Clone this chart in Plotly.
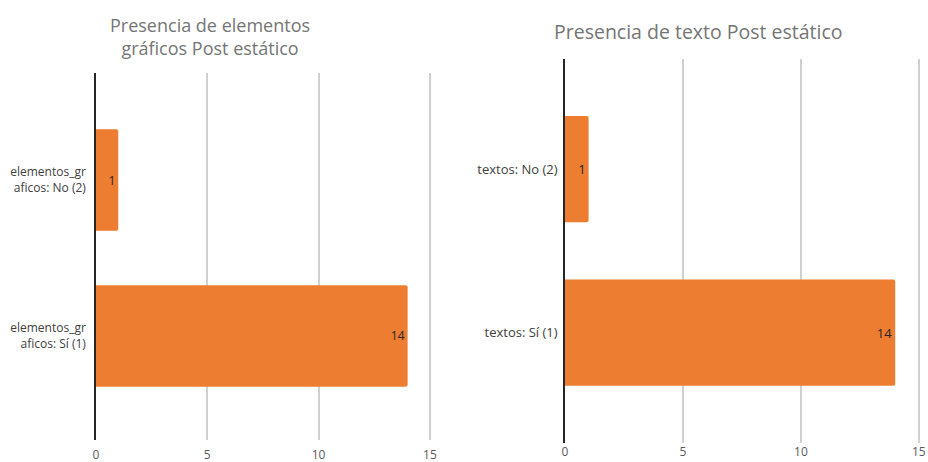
import plotly.graph_objects as go

# Data
cats_graficos = ["elementos_gr<br>aficos: No (2)", "elementos_gr<br>aficos: Sí (1)"]
vals_graficos = [1, 14]
cats_textos = ["textos: No (2)", "textos: Sí (1)"]
vals_textos = [1, 14]
x_ticks = [0, 5, 10, 15]
title_graficos = "Presencia de elementos<br>gráficos Post estático"
title_textos = "Presencia de texto Post estático"

BAR = "#ED7D31"
FONT = "Open Sans"


def bar_trace(vals, cats, xa, ya, size):
    return go.Bar(
        x=vals, y=cats, orientation="h", xaxis=xa, yaxis=ya,
        marker=dict(color=BAR, line=dict(width=0)), width=0.65,
        text=[str(v) for v in vals], textposition="inside",
        insidetextanchor="end", textfont=dict(color="#262626", size=size, family=FONT),
        hoverinfo="x+y", showlegend=False,
    )


fig = go.Figure()
fig.add_trace(bar_trace(vals_graficos, cats_graficos, "x", "y", 12))
fig.add_trace(bar_trace(vals_textos, cats_textos, "x2", "y2", 13))


def xaxis_style(size, standoff):
    return dict(
        tickvals=x_ticks, ticks="", showgrid=True, gridcolor="#d0d0d0", gridwidth=1.5,
        zeroline=False, showline=False, automargin=False,
        ticklabelstandoff=standoff,
        tickfont=dict(family=FONT, size=size, color="#595959"), fixedrange=True,
    )


def yaxis_style(size, standoff):
    return dict(
        type="category", showgrid=False, zeroline=False, ticks="",
        showline=True, linecolor="#262626", linewidth=1.5, automargin=False,
        tickfont=dict(family=FONT, size=size, color="#404040"),
        ticklabelstandoff=standoff, fixedrange=True,
    )


fig.update_layout(
    width=928, height=462,
    margin=dict(l=0, r=0, t=0, b=0),
    paper_bgcolor="white", plot_bgcolor="white",
    barcornerradius=2,
    xaxis=dict(domain=[96 / 928, 431 / 928], range=[0, 15.05], anchor="y",
               **xaxis_style(12, 6)),
    yaxis=dict(domain=[1 - 440 / 462, 1 - 73 / 462], range=[1.667, -0.686],
               categoryarray=cats_graficos, anchor="x", **yaxis_style(12, 6)),
    xaxis2=dict(domain=[565 / 928, 920 / 928], range=[0, 15.05], anchor="y2",
                **xaxis_style(12, 0)),
    yaxis2=dict(domain=[1 - 443 / 462, 1 - 59 / 462], range=[1.675, -0.673],
                categoryarray=cats_textos, anchor="x2", **yaxis_style(13, 3)),
    annotations=[
        dict(text=title_graficos, x=210 / 928, y=1 - 36 / 462, xref="paper", yref="paper",
             showarrow=False, xanchor="center", yanchor="middle",
             font=dict(family=FONT, size=18, color="#757575")),
        dict(text=title_textos, x=698 / 928, y=1 - 31 / 462, xref="paper", yref="paper",
             showarrow=False, xanchor="center", yanchor="middle",
             font=dict(family=FONT, size=19.5, color="#757575")),
    ],
)

fig.write_html("out.html")
